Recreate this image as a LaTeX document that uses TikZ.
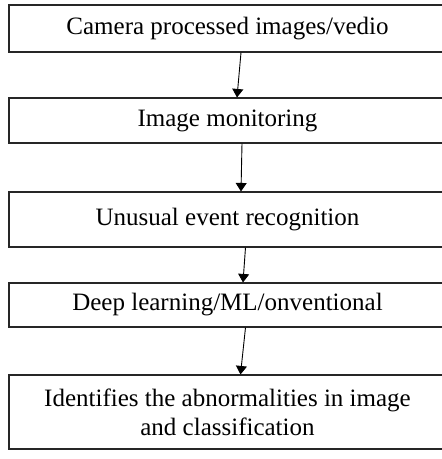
\documentclass[tikz,border=0pt]{standalone}
\usepackage{fontspec}
\setmainfont{Liberation Serif}
\usepackage{tikz}
\usetikzlibrary{arrows.meta,positioning,calc}
\tikzset{
  stepbox/.style={draw=black!85, line width=1.1pt, minimum width=437pt, inner sep=0pt,
    align=center, font=\fontsize{25}{29}\selectfont},
  arr/.style={-{Triangle[length=8.5pt,width=11pt]}, line width=0.9pt, black},
}
\begin{document}
\begin{tikzpicture}[x=1pt,y=-1pt]
  \clip (0,0) rectangle (442,459);
  \useasboundingbox (0,0) rectangle (442,459);
  % the five stages, top to bottom
  \node[stepbox, minimum height=47pt] (cam) at (227.5,28.5) {Camera processed images/vedio};
  \node[stepbox, minimum height=45pt] (mon) at (227.5,120.5) {Image monitoring};
  \node[stepbox, minimum height=55pt] (evt) at (227.5,219.5) {Unusual event recognition};
  \node[stepbox, minimum height=44pt] (dl) at (227.5,305) {Deep learning/ML/onventional};
  \node[stepbox, minimum height=74pt] (cls) at (227.5,412) {Identifies the abnormalities in image\\and classification};
  % arrows
  \draw[arr] ([xshift=13.5pt]cam.south) -- ([xshift=9.5pt]mon.north);
  \draw[arr] ([xshift=14.5pt]mon.south) -- ([xshift=13.5pt]evt.north);
  \draw[arr] ([xshift=18pt]evt.south) -- ([xshift=15.5pt]dl.north);
  \draw[arr] ([xshift=18pt]dl.south) -- ([xshift=13pt]cls.north);
\end{tikzpicture}
\end{document}
